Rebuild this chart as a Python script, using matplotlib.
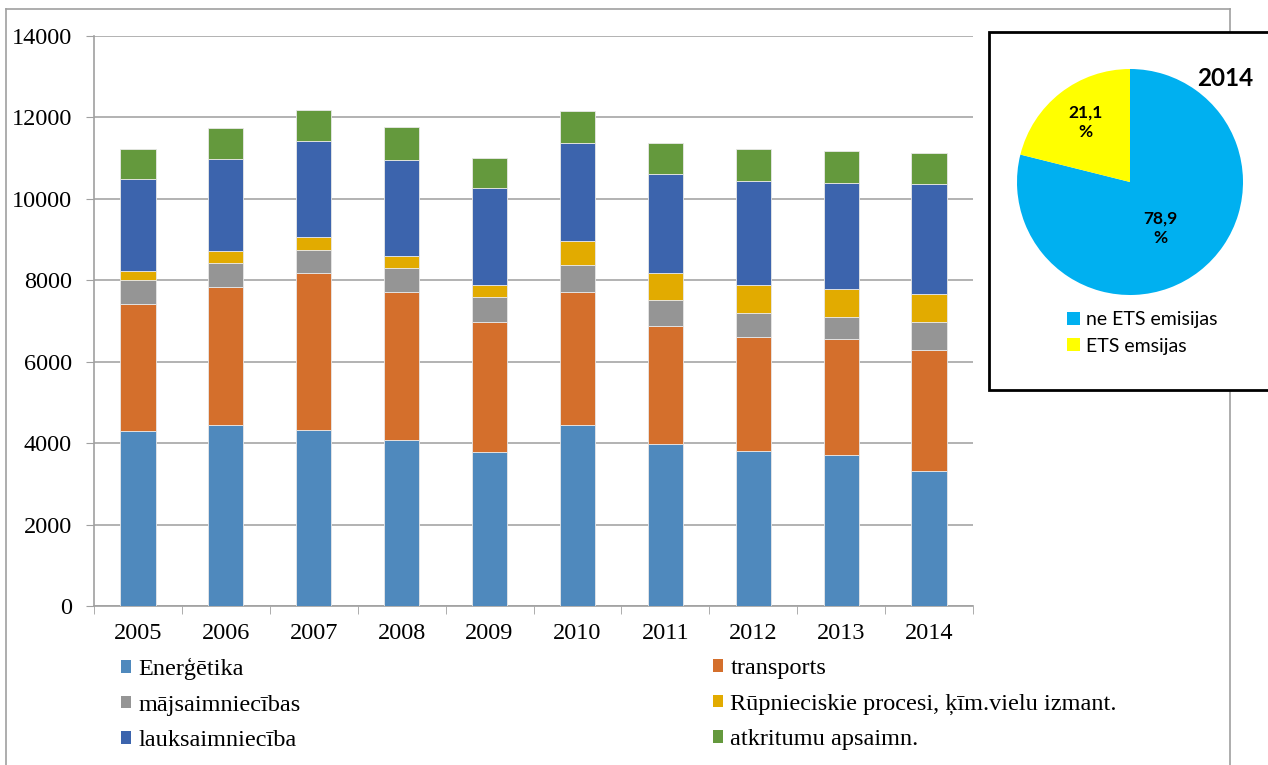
import matplotlib.pyplot as plt
from matplotlib.patches import Rectangle, Patch
from matplotlib.lines import Line2D
import numpy as np

# emissions by sector, kt CO2 eq.
years = ['2005', '2006', '2007', '2008', '2009', '2010', '2011', '2012', '2013', '2014']
energetika = [4300, 4440, 4315, 4085, 3775, 4438, 3971, 3800, 3709, 3316]
transports = [3110, 3395, 3856, 3619, 3192, 3266, 2914, 2807, 2840, 2963]
majsaimniecibas = [590, 582, 572, 590, 614, 671, 623, 589, 557, 696]
rupnieciskie = [220, 294, 312, 310, 303, 582, 663, 696, 680, 680]
lauksaimnieciba = [2275, 2260, 2358, 2357, 2375, 2414, 2447, 2554, 2611, 2717]
atkritumi = [720, 761, 777, 811, 752, 779, 746, 771, 778, 754]

sector_names = ['Enerģētika', 'transports', 'mājsaimniecības',
                'Rūpnieciskie procesi, ķīm.vielu izmant.', 'lauksaimniecība',
                'atkritumu apsaimn.']
sector_colors = ['#4F89BD', '#D46F2C', '#959595', '#E2AB00', '#3C64AD', '#64993D']

# share of ETS / non-ETS emissions in 2014
pie_labels = ['ne ETS emisijas', 'ETS emsijas']
pie_values = [78.9, 21.1]
pie_colors = ['#00B0F0', '#FFFF00']

W, H = 1268, 765
fig = plt.figure(figsize=(W / 100, H / 100), dpi=100)
serif = 'Liberation Serif'
sans = 'Lato'
fs = 17.5

ax = fig.add_axes([94 / W, (H - 606) / H, 879 / W, 570 / H])
x = np.arange(len(years))
series = [energetika, transports, majsaimniecibas, rupnieciskie, lauksaimnieciba, atkritumi]
bottom = np.zeros(len(years))
handles = []
for vals, name, col in zip(series, sector_names, sector_colors):
    ax.bar(x, vals, 0.4, bottom=bottom, color=col, edgecolor='#E8E8E8',
           linewidth=0.6, zorder=3)
    bottom += np.array(vals)
    handles.append(Patch(facecolor=col, edgecolor='none', label=name))

ax.set_xlim(-0.5, len(years) - 0.5)
ax.set_ylim(0, 14000)
ax.set_yticks(range(0, 14001, 2000))
ax.set_xticks(x)
ax.set_xticklabels(years)
ax.set_xticks(np.arange(-0.5, len(years)), minor=True)
ax.grid(axis='y', color='#A6A6A6', linewidth=1.2, zorder=0)
for s in ['top', 'right']:
    ax.spines[s].set_visible(False)
for s in ['left', 'bottom']:
    ax.spines[s].set_color('#A0A0A0')
    ax.spines[s].set_linewidth(1.2)
ax.tick_params(axis='y', length=6, color='#A0A0A0', pad=10, labelsize=fs)
ax.tick_params(axis='x', which='major', length=0, pad=12, labelsize=fs)
ax.tick_params(axis='x', which='minor', length=6, color='#A0A0A0')
for lab in ax.get_xticklabels() + ax.get_yticklabels():
    lab.set_fontfamily(serif)

# legend in two columns below the bars
leg_kw = dict(frameon=False, handlelength=0.42, handleheight=0.42, handletextpad=0.3,
              labelspacing=0.6, borderpad=0, borderaxespad=0,
              prop={'family': serif, 'size': fs}, loc='upper left')
fig.legend(handles=handles[0::2], bbox_to_anchor=(121 / W, 1 - 658 / H), **leg_kw)
fig.legend(handles=handles[1::2], bbox_to_anchor=(713 / W, 1 - 658 / H), **leg_kw)

# outer frame
frame_kw = dict(color='#A0A0A0', linewidth=1.2, transform=fig.transFigure, zorder=0)
fig.add_artist(Line2D([6 / W, 1230 / W], [1 - 9 / H, 1 - 9 / H], **frame_kw))
fig.add_artist(Line2D([6 / W, 6 / W], [1 - 9 / H, 0], **frame_kw))
fig.add_artist(Line2D([1230 / W, 1230 / W], [1 - 9 / H, 0], **frame_kw))

# inset box with the 2014 pie
fig.add_artist(Rectangle((989 / W, 1 - 390 / H), 300 / W, 358 / H, facecolor='white',
                         edgecolor='black', linewidth=2, transform=fig.transFigure,
                         zorder=5))
r = 113
pax = fig.add_axes([(1130 - r) / W, (H - 182 - r) / H, 2 * r / W, 2 * r / H], zorder=6)
wedges, _ = pax.pie(pie_values, colors=pie_colors, startangle=90, counterclock=False,
                    radius=1)
pax.set_xlim(-1, 1)
pax.set_ylim(-1, 1)
pax.set_aspect('equal')
pax.axis('off')
pax.text(-0.39, 0.53, f'{pie_values[1]:.1f}'.replace('.', ',') + '\n%', ha='center',
         va='center', fontsize=12.5, fontweight='bold', family=sans, linespacing=1.3)
pax.text(0.27, -0.41, f'{pie_values[0]:.1f}'.replace('.', ',') + '\n%', ha='center',
         va='center', fontsize=12.5, fontweight='bold', family=sans, linespacing=1.3)
fig.text(1225 / W, 1 - 78 / H, '2014', ha='center', va='center', fontsize=17.5,
         fontweight='bold', family=sans, zorder=7)
pleg = fig.legend(wedges, pie_labels, loc='upper left', bbox_to_anchor=(1067 / W, 1 - 311 / H),
                  frameon=False, handlelength=0.65, handleheight=0.65, handletextpad=0.35,
                  labelspacing=0.5, borderpad=0, borderaxespad=0,
                  prop={'family': sans, 'size': 14})
pleg.set_zorder(7)

fig.savefig('out.png', dpi=100, facecolor='white')
